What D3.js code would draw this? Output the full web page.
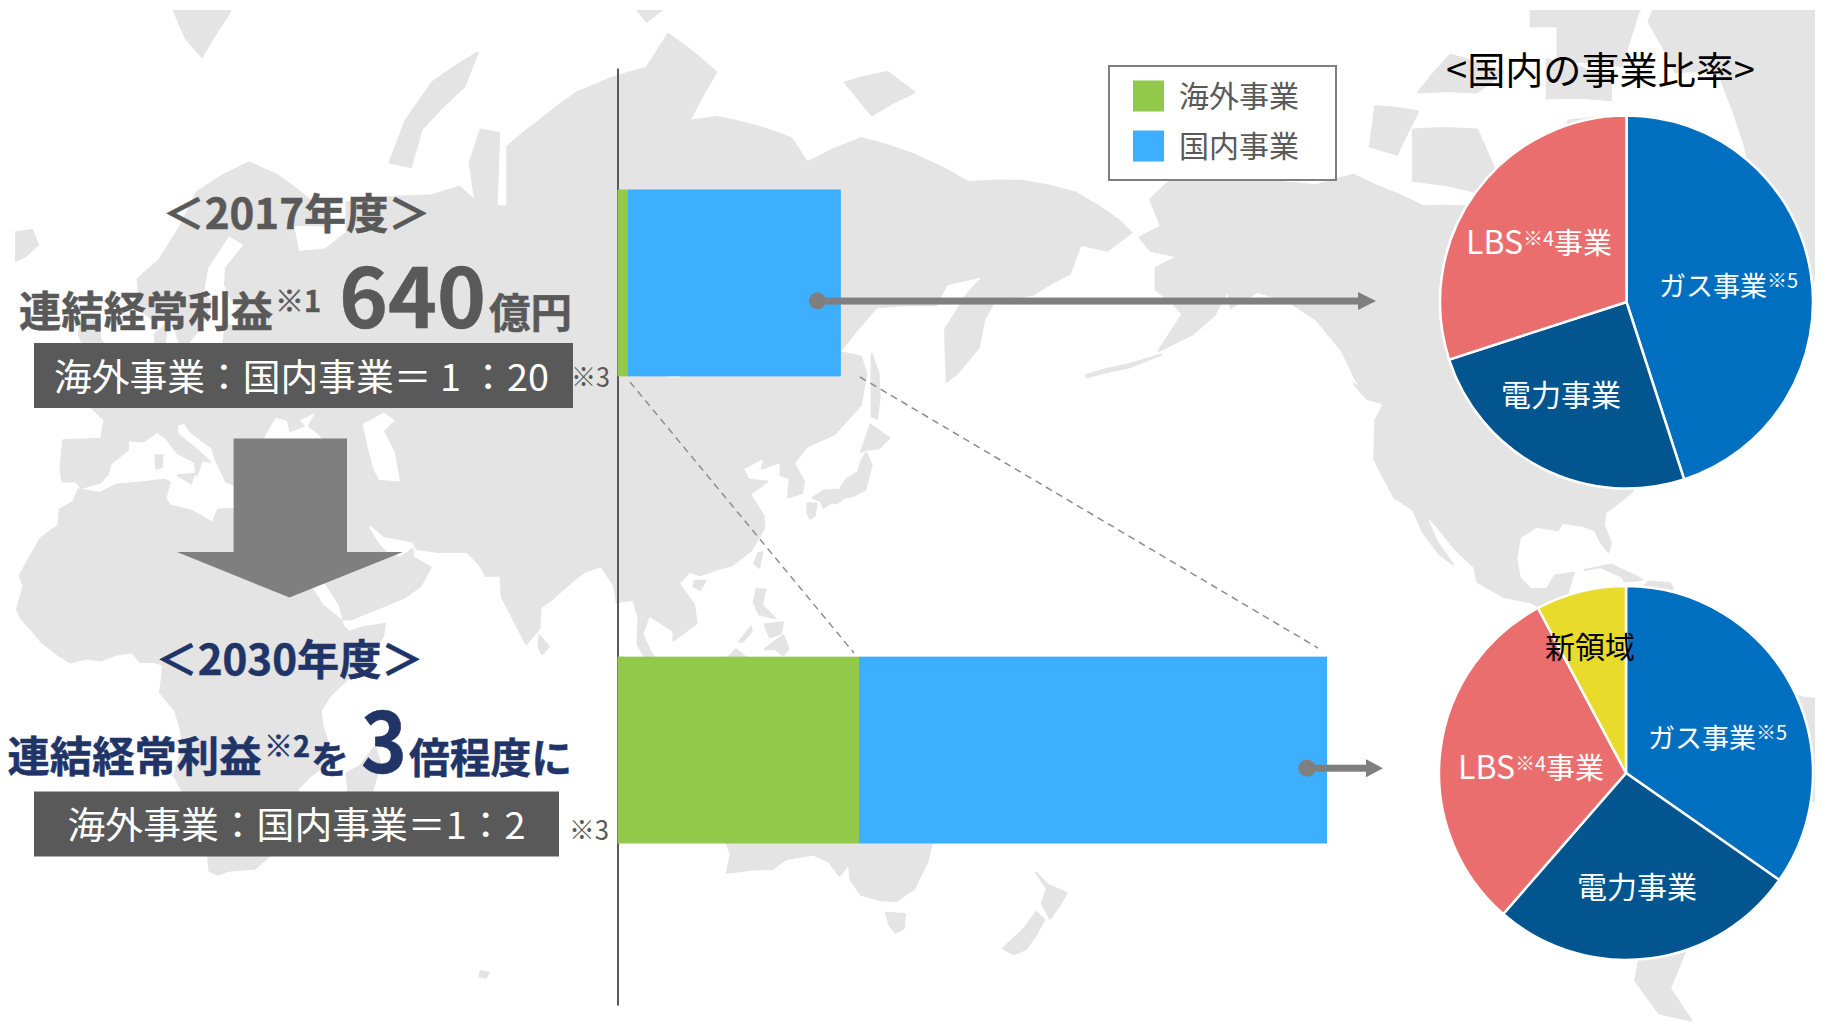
<!DOCTYPE html>
<html lang="ja"><head><meta charset="utf-8">
<script src="https://cdn.jsdelivr.net/npm/d3@7"></script>
<style>html,body{margin:0;background:#fff}svg{display:block}text{font-family:"Noto Sans CJK JP","Noto Sans",sans-serif}</style>
</head><body><svg id="c" width="1822" height="1022"></svg>
<script>
// ---- chart data ----
const years = ["2017年度", "2030年度"];
const overseas = [30, 692];
const domestic = [610, 1341];
const seriesNames = ["海外事業", "国内事業"];
const seriesColors = ["#92C94A", "#3EAEFF"];
const pie2017Names = ["ガス事業", "電力事業", "LBS事業"];
const pie2017Values = [45, 25, 30];
const pie2030Names = ["ガス事業", "電力事業", "LBS事業", "新領域"];
const pie2030Values = [34.7, 26.7, 30.8, 7.8];
const pieColors = {"ガス事業": "#006FC0", "電力事業": "#02558F", "LBS事業": "#EA6E6E", "新領域": "#E8DB2B"};

// ---- background map outlines (lon, lat) ----
const africa = [[-6,35.8],[-2,35.2],[1,36.5],[5,36.8],[10,37.3],[11,36.9],[10.2,34.3],[11,33.2],[15,32.3],[19,30.3],[20,32.5],[23,32.6],[25,31.6],[29,31],[32.3,31.2],[34.2,31.3],[32.6,29.9],[33.6,27.8],[35.5,24],[37.2,21],[37.4,18.8],[39.5,15.5],[43.1,12.5],[43.3,11.5],[44.5,10.4],[47,11.2],[51.2,11.9],[50.8,9.5],[48,4.5],[44,1],[41,-2],[39.2,-5],[39.5,-8],[40.5,-11],[40.6,-15],[37,-17.8],[34.9,-20],[35.5,-24],[32.8,-25.8],[32.7,-28.5],[30.5,-31],[27,-33.8],[22,-34.2],[20,-34.8],[18.4,-34.2],[18.2,-32],[16.5,-28.6],[14.9,-26],[14.3,-22],[11.8,-17.5],[13.5,-12],[13,-8.5],[12,-5],[9.2,-1.5],[9.6,2],[9.7,4],[8,4.5],[5.5,4.5],[4,6.4],[1,5.9],[-2,4.8],[-4.5,5.2],[-7.5,4.4],[-10,6],[-13,8.5],[-15,11],[-16.8,13],[-17.5,14.7],[-16.3,19],[-17,21],[-15,24.5],[-13,27.7],[-9.8,29.8],[-9.5,32.5],[-7,33.8]];
const eurasia = [[-9,37],[-9.4,38.8],[-8.9,43.2],[-1.8,43.4],[-1.2,46],[-4.7,48.4],[-1.5,48.7],[1.5,50.5],[4,52],[6,53.4],[8.5,54],[8.2,56.5],[10.6,57.6],[10,55],[12,54.2],[14,54],[19,54.4],[21,55.5],[21.5,57.5],[24,57.2],[23.5,59.2],[28,59.6],[30,60],[25,60.2],[22.5,60],[21.3,61.5],[21.5,63],[25,65],[22,65.8],[18,63],[17.2,60.7],[18.8,59.8],[16.5,57],[14.5,55.6],[12.8,55.5],[11,59],[8,58],[5.5,59],[5,62],[9,63.7],[13,66.5],[16,69],[21,70.2],[25.8,71],[31,70.2],[40,67.5],[41,66.5],[34,66.6],[35,64.4],[40,64.6],[44,66],[44,68.3],[54,68.7],[60,68.8],[65,69.4],[68,68.4],[67,71],[69,73],[72.5,72.8],[72,68],[74,68],[74,72],[80,73.5],[87,75],[100,76.2],[104,77.7],[113,76],[108,73.5],[113,73.7],[127,72.5],[130,71],[140,72.5],[150,71.5],[160,69.7],[170,69.8],[180,69],[188,67],[190.5,66],[186,64.5],[181,65],[179,62.5],[172,60.5],[165,60],[163,58],[162,55],[158,52],[156,51],[155.7,57],[160,60.7],[163,62.3],[156,61.5],[154,59.5],[143,59.3],[136,54.5],[140,54],[141,52],[140,48],[135,44],[132,43],[130,42.3],[127.5,39.8],[129.4,37],[129,35.2],[126.4,34.5],[126.7,37.5],[125,38],[125,40],[121.5,39],[122,40.7],[118,39],[119,37.3],[122.5,37],[119.3,35],[121.8,31.5],[122,29.5],[119.5,25.5],[116,22.9],[113.5,22.2],[110,21],[108,21.7],[106,19.5],[108.9,15.5],[109.3,12],[105,8.7],[105,10.5],[100.5,13.5],[99.2,10],[100.5,7],[103.5,1.4],[101,3],[98.3,8],[98.5,13],[97.5,16.5],[94.4,16],[94,19],[91.5,22.7],[88.5,21.7],[86.8,20.5],[82,16.3],[80.2,15],[80,11],[77.5,8],[76,11],[73,17],[72.7,21],[70,20.9],[68.8,23],[66.5,25.2],[61,25.2],[57,25.8],[56.5,27],[51,28],[48.5,30],[48,29.5],[50,26.5],[51.5,25],[54,24.2],[56.3,25.8],[56.5,24.2],[59.7,22.5],[57.8,19],[55,17],[52,15.7],[45,12.8],[43.4,12.7],[42.7,15.5],[39.2,21],[35,28],[34.9,29.5],[34.3,31.3],[35.9,35],[36,36.7],[32,36.1],[30.5,36.5],[27.4,37],[26.3,39.5],[29,41],[31.5,41.2],[35,42],[41.6,41.6],[39,44],[37,45.2],[38.5,47.2],[35,46],[36,45.2],[33.5,44.5],[33,46],[30.7,46.5],[28.7,44],[28,41.5],[26,40.8],[24,40.5],[23,39.5],[24,38],[23,36.5],[21.5,37],[19.5,40.5],[19,42],[15,44.3],[13.7,45.7],[12.3,45.3],[12.5,44],[16,41.9],[18.5,40],[17,40.3],[16.5,39],[16,38],[15.7,40],[12.5,41.3],[10.3,43.5],[8.7,44.4],[6,43],[3.2,43.2],[3.2,41.8],[0,39.8],[-0.5,38.2],[-2,36.8],[-5.5,36],[-6.5,37]];
const americas = [[-168,65.6],[-164,66.5],[-166,68.5],[-160,70.5],[-156.5,71.3],[-150,70.5],[-141,69.7],[-135,69.5],[-128,70.2],[-124,69.5],[-115,68],[-108,68],[-98,68],[-95,71.5],[-92,69.7],[-88,68.5],[-85,69.5],[-81.5,68.5],[-82,66.5],[-87,64.5],[-92.5,63],[-94.5,60],[-92.5,57],[-88,56.5],[-82.5,55],[-82,52.8],[-79.5,51.3],[-79,52.8],[-77,56],[-78,58.7],[-78,62.3],[-73,62.3],[-70,61],[-69.5,58.8],[-66,58.7],[-64.5,60.3],[-61.5,57],[-57,54],[-56,52],[-60,50.2],[-66,50.2],[-70,47.3],[-65,49],[-65,47],[-61,46],[-64,44.8],[-66,44],[-70,43.6],[-70.5,41.7],[-74,40.6],[-75.5,38],[-76,35.5],[-78,34],[-81,32],[-81.4,30],[-80,26.8],[-80.5,25.2],[-82,27],[-83,29],[-85,29.7],[-89,30.3],[-90,29],[-94,29.6],[-97,27.8],[-97.7,24],[-97,20.5],[-95,18.5],[-92,18.5],[-90.5,21],[-87,21.5],[-88,18],[-88.7,15.8],[-84,15.8],[-83.5,11.5],[-82,9],[-79.5,9.5],[-77.3,8.7],[-75,11],[-72,12],[-71,11],[-68,11.5],[-64,10.5],[-61,10],[-57,6],[-52,4.5],[-50,1],[-49,-1],[-44,-2.5],[-40,-3],[-35.3,-5.5],[-35,-9],[-39,-15],[-40,-21],[-44,-23],[-48.5,-26],[-52,-33],[-57,-35],[-57,-38.5],[-62,-39],[-65,-41],[-65.5,-45],[-69,-51],[-65,-54.8],[-71,-54],[-75.5,-50],[-73.5,-42],[-73.5,-37],[-71.5,-30],[-70.2,-20],[-76,-14],[-81.2,-6],[-80,-2],[-80,1],[-77.5,4],[-77.8,7.5],[-80,7.5],[-83,8.3],[-85.8,10],[-87.7,13],[-92,14.5],[-95,16],[-100,17],[-105,19.8],[-105.5,22.5],[-109,25.6],[-112.8,30],[-114.7,31.7],[-112.5,27],[-109.5,23],[-112,24.8],[-115,28.5],[-117,32.5],[-120.5,34.5],[-122.5,37.7],[-124.2,40.4],[-124,46],[-122.5,48],[-127.5,51],[-130.3,54.7],[-135,58],[-140,59.8],[-146,60.8],[-151,59.2],[-151.5,61],[-154,58.5],[-158,56.5],[-164.5,54.6],[-160,58.6],[-162,59.8],[-165,61],[-165,63],[-161,64],[-166,64.5]];
const islands = [
 [[49.3,-12],[50.4,-15.5],[49.5,-18],[47.5,-25],[45,-25.5],[43.6,-23],[44.3,-20],[44,-17],[46.5,-15.7]],
 [[32.6,29.9],[34.3,31.3],[34.8,29.5],[34.2,27.8],[33,29]],
 [[-5.5,50],[1.3,51.2],[1.7,52.7],[-0.2,54.3],[-2,56],[-2,57.6],[-3.5,58.6],[-5.2,58.5],[-6,56.5],[-4.8,54.8],[-3,53.8],[-4.5,53.2],[-5,51.7],[-3,51.4]],
 [[-6.2,52.2],[-6,54],[-7,55.3],[-8.5,54.5],[-10,54],[-10,52],[-8,51.5]],
 [[-24,65.5],[-22,66.4],[-18,66],[-14.7,66.2],[-13.6,65],[-16,64],[-19,63.4],[-22.6,63.9]],
 [[11,79],[16,80],[26,80.3],[22,78.5],[17,76.7],[14,77.5]],
 [[52,71],[55,73.5],[60,75.5],[68.5,76.9],[66,75.3],[58,73],[56,70.7]],
 [[95,79.5],[100,81],[105,79],[100,78.2]],
 [[137,75.5],[145,76],[150,75],[142,73.8]],
 [[142,54.3],[143.3,52],[143.5,49],[143,46.2],[142,46.5],[142,50]],
 [[140,41.5],[141.8,45.4],[145.3,43.5],[143.3,42],[141,41.8]],
 [[141,41.4],[142,39.5],[140.8,35.7],[138.5,34.7],[136.8,34.4],[135.5,33.5],[132,34],[131,34.4],[133,35.6],[136,35.7],[137.3,37.4],[139.5,38.5],[140,40]],
 [[130,33.5],[131.7,33.5],[131.4,31.5],[130.5,31],[130,32]],
 [[132.5,33.9],[134.6,34.2],[134,33.4],[133,32.8]],
 [[121.6,25.2],[121,22.4],[120.1,23.2],[120.8,25]],
 [[109,20],[111,20],[110,18.3],[108.7,19]],
 [[80,9.7],[81.8,7.5],[80.5,6],[79.8,7.5]],
 [[95.3,5.6],[98,4],[103.5,-1],[106,-3.2],[105.8,-5.8],[102,-4],[100,-1.5],[97,2.5]],
 [[105.3,-6.5],[108.5,-6.5],[112.5,-6.9],[114.5,-7.7],[114.3,-8.7],[108,-7.9]],
 [[109,1.5],[111,1.6],[113,3.2],[116.7,7],[119,5],[117.7,1],[116,-3.8],[114,-3.5],[110,-2.8],[109,-0.5]],
 [[119.5,0.5],[121,1.2],[125,1.4],[121,0.2],[123.3,-0.9],[121.5,-1.9],[123,-4.5],[122,-4.8],[120.5,-2.8],[120.3,-5.5],[119.5,-5.4],[119,-3]],
 [[131,-0.8],[135,-1],[138,-1.7],[141,-2.6],[145,-4.5],[147.8,-6.2],[147,-7],[150.5,-10.5],[147,-9.7],[143.5,-8.8],[141,-9],[138,-8.2],[138,-5.5],[133,-4],[132.5,-2.8]],
 [[120.5,18.5],[122.2,18.4],[121.5,15.5],[124,13],[121,13.7],[120,16]],
 [[122,7],[125.5,9.7],[126.5,7],[125.5,5.8],[124,7]],
 [[122,11.8],[125.5,12.2],[125,10],[123,9.3]],
 [[117.2,8.4],[119.5,11.3],[119.6,10.5],[118,8.5]],
 [[116,-8.5],[119,-8.3],[123,-8.3],[127,-8.4],[124,-10.2],[120,-10]],
 [[113.5,-22],[114.2,-21.8],[117,-20.6],[122,-18],[122.5,-16.5],[126,-14],[129.5,-15],[130.5,-12.4],[136.8,-12],[136,-15],[139.5,-17.5],[141.5,-13],[142.5,-10.8],[144,-14.5],[146,-18.8],[149,-21],[153,-25.5],[153.5,-28.5],[152.5,-32.5],[150,-37],[146.5,-39],[143.5,-38.8],[140,-38],[138,-35.5],[137.8,-33],[136,-35],[134,-32.7],[131,-31.5],[126,-32.3],[123.5,-33.9],[120,-34],[115,-34.5],[115.7,-31.5],[114,-27]],
 [[144.7,-40.7],[148.2,-40.9],[148,-43],[146.5,-43.6],[145.3,-42.5]],
 [[172.7,-34.5],[175,-36.5],[178.4,-37.7],[177,-39.7],[175.3,-41.6],[173.8,-39.3],[174.7,-37]],
 [[172.7,-40.6],[174.2,-41.7],[172.8,-43.8],[170.8,-45.9],[168.5,-46.6],[166.5,-45.8],[170.5,-43]],
 [[69,-48.8],[70.5,-49],[70,-49.7],[68.8,-49.5]],
 [[-164,54.2],[-170,52.7],[-178,51.5],[-178,51.8],[-170,53.1]],
 [[-80,73.7],[-72,71.7],[-68,70],[-62,66.5],[-65,63],[-68,62.5],[-72,64],[-78,64.5],[-73,67.5],[-78,70],[-89,71],[-88,73.5]],
 [[-117,69.8],[-105,69],[-101,70],[-105,73],[-117,73]],
 [[-125,72],[-120,71.5],[-116,74],[-124,74.3]],
 [[-90,76.5],[-78,76.3],[-75,78.5],[-62,82],[-72,83],[-90,81.5]],
 [[-92,74.7],[-80,74.6],[-80,75.7],[-92,76.6]],
 [[-116,75],[-105,75],[-100,76],[-110,76.8]],
 [[-95,78],[-88,78],[-88,81],[-95,80.5]],
 [[-87,64],[-81,63.3],[-82,65.5]],
 [[-59,47.7],[-55.5,46.9],[-53,47],[-53,48.8],[-56,51.5],[-57.5,50]],
 [[-128,50.7],[-125,50],[-123.5,48.4],[-125.5,48.8]],
 [[-85,22],[-80,23],[-75,20.7],[-74.2,20.2],[-77.5,19.9],[-78,20.8],[-82,22.5]],
 [[-74.4,18.5],[-73,19.9],[-69,19.6],[-68.4,18.6],[-71,18]],
 [[-73,78.2],[-68,76],[-60,76],[-55,72],[-53,68],[-52,65],[-48,61],[-43.5,60],[-40,65],[-38,70],[-32,83],[-60,82.5]],
 [[12.5,38],[15.6,38.2],[15,36.7]],
 [[8.3,41],[9.7,41],[9.5,39.2],[8.5,39]]
];
const lakes = [
 [[47,45.5],[51,47],[53,46],[51,44.5],[53,41.5],[54,37],[50,37.3],[49,39],[48,42]],
 [[104,51.5],[109,55.5],[110,55.5],[106,51.5]],
 [[-92,46.8],[-88,48.7],[-85,47.5],[-85,46.5],[-88,46.5]],
 [[-84.5,46],[-81,46],[-80,44.5],[-82,43],[-83.5,44]],
 [[-88,42],[-85.5,42],[-85,45.8],[-87.5,45.5]]
];

const svg = d3.select("#c");
const W = 1822, H = 1022;

// ---- map ----
const mapRaw = (l, p) => [l, 0.952 * Math.log(Math.tan(Math.PI / 4 + p / 2))];
const projection = d3.geoProjection(mapRaw).rotate([-150, 0]).scale(307).translate([914.5, 685]).precision(0.5);
const geoPath = d3.geoPath(projection);
const toGeo = ring => {
  const close = ring.concat([ring[0]]);
  let g = {type: "Polygon", coordinates: [close]};
  if (d3.geoArea(g) > 2 * Math.PI) g = {type: "Polygon", coordinates: [close.slice().reverse()]};
  return g;
};
svg.append("defs").append("clipPath").attr("id", "mapClip").append("rect")
  .attr("x", 15).attr("y", 10).attr("width", 1800).attr("height", H - 10);
const mapG = svg.append("g").attr("clip-path", "url(#mapClip)");
mapG.selectAll("path.land").data([africa, eurasia, americas, ...islands]).join("path")
  .attr("class", "land").attr("d", d => geoPath(toGeo(d))).attr("fill", "#E4E4E4")
  .attr("stroke", "#E4E4E4").attr("stroke-width", 2).attr("stroke-linejoin", "round");
mapG.selectAll("path.lake").data(lakes).join("path")
  .attr("class", "lake").attr("d", d => geoPath(toGeo(d))).attr("fill", "#fff");

// ---- helpers ----
const txt = (x, y, s, size, fill, weight = 400, anchor = "start", len = null) => {
  const t = svg.append("text").attr("x", x).attr("y", y).attr("font-size", size).attr("fill", fill)
     .attr("font-weight", weight).attr("text-anchor", anchor).text(s);
  if (weight === 700) t.attr("stroke", fill).attr("stroke-width", 0.5);
  if (len) t.attr("textLength", len).attr("lengthAdjust", "spacingAndGlyphs");
  return t;
};

// ---- connector guide lines ----
[[630, 382, 854, 653], [860, 377, 1318, 648]].forEach(l => {
  svg.append("line").attr("x1", l[0]).attr("y1", l[1]).attr("x2", l[2]).attr("y2", l[3])
    .attr("stroke", "#8C8C8C").attr("stroke-width", 1.5).attr("stroke-dasharray", "7 5");
});

// ---- stacked bars ----
const x = d3.scaleLinear().domain([0, overseas[1] + domestic[1]]).range([617.5, 1327]);
const y = d3.scaleBand().domain(years).range([189.5, 843.5]).paddingInner(0.6);
const axisScale = d3.scaleLinear().range([68, 1005]);
svg.append("g").attr("transform", `translate(${x(0)},0)`)
  .call(d3.axisLeft(axisScale).tickValues([]).tickSizeOuter(0))
  .call(g => g.select(".domain").attr("stroke", "#595959").attr("stroke-width", 2));
const rows = years.map((k, i) => ({k, a: overseas[i], b: domestic[i]}));
const stack = d3.stack().keys(["a", "b"])(rows);
stack.forEach((s, j) => {
  svg.append("g").attr("fill", seriesColors[j]).selectAll("rect").data(s).join("rect")
    .attr("x", d => x(d[0])).attr("width", d => x(d[1]) - x(d[0]))
    .attr("y", d => y(d.data.k)).attr("height", y.bandwidth());
});

// ---- small arrows out of the bars ----
const gray = "#7F7F7F";
const arrowY = years.map(k => y(k) + y.bandwidth() * 0.597);
[[817.5, 1358, 1376], [1307, 1366, 1383]].forEach((a, i) => {
  const cy = arrowY[i];
  svg.append("circle").attr("cx", a[0]).attr("cy", cy).attr("r", 8.5).attr("fill", gray);
  svg.append("rect").attr("x", a[0]).attr("y", cy - 3.5).attr("width", a[1] - a[0]).attr("height", 7).attr("fill", gray);
  svg.append("path").attr("d", `M${a[1]},${cy - 9}L${a[2]},${cy}L${a[1]},${cy + 9}Z`).attr("fill", gray);
});

// ---- big arrow ----
svg.append("path").attr("d", "M233.6,438.5H347V552H403L289.5,597.5L177,552H233.6Z").attr("fill", gray);

// ---- left text ----
const dk = "#595959", navy = "#213468";
txt(296.5, 229, "＜2017年度＞", 42, dk, 700, "middle", 268);
txt(19, 327, "連結経常利益", 42, dk, 700, "start", 254);
txt(275, 312, "※1", 29, dk, 700, "start", 46);
txt(339, 328, "640", 82, dk, 700, "start", 147);
txt(489, 328, "億円", 41, dk, 700, "start", 83);
svg.append("rect").attr("x", 34).attr("y", 343).attr("width", 539).attr("height", 65).attr("fill", dk);
txt(54, 391, "海外事業：国内事業＝ 1 ：20", 37, "#fff", 400, "start", 495);
txt(571, 387, "※3", 27, dk, 400, "start", 39);

txt(289.5, 675, "＜2030年度＞", 42, navy, 700, "middle", 268);
txt(7.5, 772, "連結経常利益", 42, navy, 700, "start", 254);
txt(264, 757, "※2", 29, navy, 700, "start", 46);
txt(311, 773, "を", 38, navy, 700);
txt(361, 773, "3", 84, navy, 700, "start", 46);
txt(409, 773, "倍程度に", 41, navy, 700, "start", 163);
svg.append("rect").attr("x", 34).attr("y", 791.5).attr("width", 525).attr("height", 65).attr("fill", dk);
txt(67.5, 839, "海外事業：国内事業＝1：2", 37, "#fff", 400, "start", 458);
txt(569, 840, "※3", 27, dk, 400, "start", 40);

// ---- legend ----
svg.append("rect").attr("x", 1109).attr("y", 66).attr("width", 227).attr("height", 114)
  .attr("fill", "#fff").attr("stroke", gray).attr("stroke-width", 2);
const legendY = d3.scalePoint().domain(seriesNames).range([96, 146]);
seriesNames.forEach((n, i) => {
  svg.append("rect").attr("x", 1133).attr("y", legendY(n) - 15.5).attr("width", 31).attr("height", 31).attr("fill", seriesColors[i]);
  txt(1179, legendY(n) + 11, n, 30, dk);
});

// ---- pies ----
txt(1600.5, 84, "<国内の事業比率>", 38, "#000", 400, "middle", 309);
const pieGen = d3.pie().sort(null).startAngle(0).endAngle(2 * Math.PI);
function drawPie(cx, cy, r, names, values) {
  const arc = d3.arc().innerRadius(0).outerRadius(r);
  const g = svg.append("g").attr("transform", `translate(${cx},${cy})`);
  g.selectAll("path").data(pieGen(values)).join("path").attr("d", arc)
    .attr("fill", (d, i) => pieColors[names[i]]).attr("stroke", "#fff").attr("stroke-width", 2.5);
}
drawPie(1626.5, 302, 186.5, pie2017Names, pie2017Values);
drawPie(1626, 773, 187, pie2030Names, pie2030Values);

function label(x0, y0, parts, fs = 28, fill = "#fff") {
  const t = svg.append("text").attr("x", x0).attr("y", y0).attr("font-size", fs).attr("fill", fill);
  parts.forEach(p => {
    const sup = p[0] === "※";
    const s = t.append("tspan").text(p);
    if (sup) { s.attr("font-size", 20).attr("dy", -8); }
    else if (t.selectAll("tspan").size() > 1) { s.attr("dy", 8); }
    if (p === "LBS") s.attr("font-size", 32);
  });
}
label(1659, 296, ["ガス事業", "※5"], 27);
label(1466, 254, ["LBS", "※4", "事業"], 29);
label(1501, 406, ["電力事業"], 30);
label(1648, 748, ["ガス事業", "※5"], 27);
label(1458, 779, ["LBS", "※4", "事業"], 29);
label(1577, 898, ["電力事業"], 30);
label(1545, 658, ["新領域"], 30, "#000");
</script></body></html>
